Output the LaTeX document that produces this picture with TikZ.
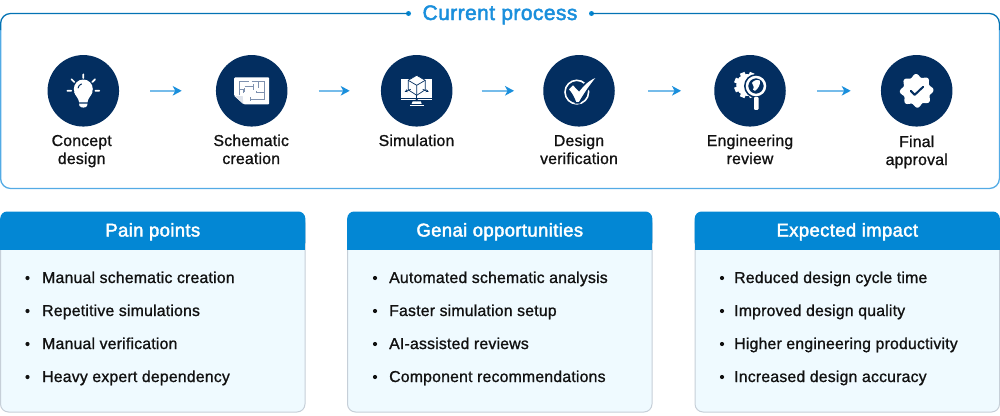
\documentclass[tikz,border=0pt]{standalone}
\usepackage{fontspec}
\setmainfont{Liberation Sans}[FakeBold=1.1,LetterSpace=1.3]
\newfontfamily\semibf{Liberation Sans}[FakeBold=2.2,LetterSpace=2]
\usetikzlibrary{arrows.meta,calc}
\definecolor{navy}{HTML}{032E60}
\definecolor{blueA}{HTML}{1A8FDC}
\definecolor{blueH}{HTML}{0387D4}
\definecolor{cardbg}{HTML}{EFFAFF}
\definecolor{cardln}{HTML}{C6CFD8}
\definecolor{ink}{HTML}{111111}
\definecolor{planln}{HTML}{7E91AF}
\tikzset{
  stepdisc/.style={circle,fill=navy,minimum size=71.5pt,inner sep=0pt},
  steplabel/.style={align=center,font=\fontsize{15.8}{18}\selectfont,text=ink,anchor=base,inner sep=0pt},
  flow/.style={line width=1.6pt,draw=blueA!60,-{Stealth[length=9pt,width=9.5pt,inset=2.5pt,color=blueA]}},
  cardhead/.style={font=\semibf\fontsize{18.5}{20}\selectfont,text=white,anchor=base,inner sep=0pt},
  item/.style={font=\fontsize{15.8}{18}\selectfont,text=ink,anchor=base west,inner sep=0pt},
  bulletdot/.style={circle,fill=ink,minimum size=4.2pt,inner sep=0pt},
  titletxt/.style={font=\semibf\fontsize{21}{24}\selectfont,text=blueA,anchor=base,inner sep=0pt},
  framedot/.style={circle,fill=blueH,minimum size=5pt,inner sep=0pt},
  whl/.style={draw=white,line cap=round,line join=round},
}
\begin{document}
\begin{tikzpicture}[x=1pt,y=-1pt]
\useasboundingbox (0,0) rectangle (1000,415);
% frame
\node[framedot] (dotL) at (408.5,13.5) {};
\node[framedot] (dotR) at (591.5,13.5) {};
\draw[line width=1.3pt,draw=blueA!75,rounded corners=10pt] (0.6,30) -- (0.6,188.5) -- (999.4,188.5) -- (999.4,30);
\draw[line width=1.3pt,draw=blueH!85!black,rounded corners=10pt] (dotL.center) -- (0.6,13.5) -- (0.6,30);
\draw[line width=1.3pt,draw=blueH!85!black,rounded corners=10pt] (dotR.center) -- (999.4,13.5) -- (999.4,30);
\node[titletxt] (title) at (500,20) {Current process};
% discs
\node[stepdisc] (c1) at (83.3,90.8) {};
\node[stepdisc] (c2) at (251.7,90.8) {};
\node[stepdisc] (c3) at (416.7,90.8) {};
\node[stepdisc] (c4) at (579,90.8) {};
\node[stepdisc] (c5) at (750,90.8) {};
\node[stepdisc] (c6) at (916.7,90.8) {};
% flows
\draw[flow,shorten <=31pt,shorten >=34pt] (c1) -- (c2);
\draw[flow,shorten <=31pt,shorten >=31pt] (c2) -- (c3);
\draw[flow,shorten <=29pt,shorten >=29pt] (c3) -- (c4);
\draw[flow,shorten <=33pt,shorten >=33pt] (c4) -- (c5);
\draw[flow,shorten <=31pt,shorten >=30pt] (c5) -- (c6);
% labels
\node[steplabel] (l1a) at (81.7,146) {Concept};
\node[steplabel] (l1b) at (81.7,164) {design};
\node[steplabel] (l2a) at (251.2,146) {Schematic};
\node[steplabel] (l2b) at (251.2,164) {creation};
\node[steplabel] (l3a) at (416.5,146) {Simulation};
\node[steplabel] (l4a) at (579,146) {Design};
\node[steplabel] (l4b) at (579,164) {verification};
\node[steplabel] (l5a) at (750,146) {Engineering};
\node[steplabel] (l5b) at (750,164) {review};
\node[steplabel] (l6a) at (916.7,147) {Final};
\node[steplabel] (l6b) at (916.7,165) {approval};
% icon 1: bulb
\begin{scope}[shift={(83.3,90.8)}]
  \fill[white] (0,-1.8) circle[radius=9.5];
  \fill[white] (-9.2,1) .. controls (-8,5.5) and (-4.6,7) .. (-4.2,11.5) -- (4.2,11.5) .. controls (4.6,7) and (8,5.5) .. (9.2,1) -- cycle;
  \fill[white] (-4.2,12.8) -- (4.2,12.8) -- (3.8,15) .. controls (2.8,17.4) and (-2.8,17.4) .. (-3.8,15) -- cycle;
  \draw[navy,line width=1pt,line cap=round] (-5.2,-2.8) .. controls (-5,-4.8) and (-3.5,-6.3) .. (-1.8,-6.8);
  \draw[whl,line width=1.7pt] (0,-16.5) -- (0,-12.8) (-16,0) -- (-12,0) (16,0) -- (12,0) (-11.8,-11.5) -- (-9,-8.8) (11.8,-11.5) -- (9,-8.8);
\end{scope}
% icon 2: plan sheet
\begin{scope}[shift={(251.7,90.8)}]
  \fill[white,rounded corners=1pt] (-17.5,-13.5) -- (17.5,-13.5) -- (17.5,13.5) -- (-8,13.5) -- (-17.5,5) -- cycle;
  \fill[white!75!planln] (-17,5.3) -- (-9,5.3) -- (-8.4,13) -- cycle;
  \draw[planln,line width=.9pt] (-12.5,4.5) -- (-12.5,-9.5) -- (-3,-9.5) (0,-9.5) -- (12.5,-9.5) -- (12.5,8.5) -- (-1,8.5) (-1,6.5) -- (-1,10.5) (-12.5,-1) -- (-7,-1) (-7,-3) -- (-7,1) (-7,-4) -- (2,-4) (2,-6.5) -- (2,-1) (-8,-1) -- (-8,2) (7,-9.5) -- (7,-3) (5,2) -- (12.5,2) (5,0) -- (5,2);
\end{scope}
% icon 3: monitor and cube
\begin{scope}[shift={(416.7,90.8)}]
  \fill[white] (-15.7,-11.5) -- (15.7,-11.5) -- (15.7,7) -- (-15.7,7) -- cycle;
  \fill[white] (-15.7,8) -- (15.7,8) -- (15.7,9.5) -- (-15.7,9.5) -- cycle;
  \fill[white] (-4,10.5) -- (4,10.5) -- (5,13) -- (-5,13) -- cycle;
  \fill[white] (-7,14.2) -- (7,14.2) -- (7,15.6) -- (-7,15.6) -- cycle;
  \fill[white,draw=navy,line width=.7pt,line join=round] (0,-15.5) -- (8.5,-10.5) -- (8.5,-1) -- (0,4.5) -- (-8.5,-1) -- (-8.5,-10.5) -- cycle;
  \draw[navy,line width=.7pt] (-8.5,-10.5) -- (0,-5.5) -- (8.5,-10.5) (0,-5.5) -- (0,4.5);
  \draw[navy,line width=.7pt,-{Stealth[length=3pt,width=3pt]}] (0,4) -- (0,10.5);
  \draw[navy,line width=.7pt,-{Stealth[length=3pt,width=3pt]}] (-6,-1.5) -- (-12,1);
  \draw[navy,line width=.7pt,-{Stealth[length=3pt,width=3pt]}] (6,-1.5) -- (12,1);
\end{scope}
% icon 4: check
\begin{scope}[shift={(579,90.8)}]
  \draw[white,line width=1.6pt] (-2.2,1.3) circle[radius=11.8];
  \fill[white,draw=navy,line width=1.6pt,line join=miter] (-11.3,-1.5) -- (-6,-6.8) -- (0,-0.5) .. controls (6,-8) and (11,-12) .. (17.7,-14.5) -- (17.7,-13) .. controls (11,-5) and (5,4) .. (0.5,12) -- (-3.5,12) .. controls (-5,7) and (-8,2) .. (-11.3,-1.5) -- cycle;
\end{scope}
% icon 5: gear and lens
\begin{scope}[shift={(750,90.8)}]
  \fill[white] (-2.8,-5.8) circle[radius=11];
  \foreach \a in {0,45,...,315}{
    \fill[white,rotate around={\a+22.5:(-2.8,-5.8)}] (-5.3,-19) rectangle (-0.3,-15);
  }
  \fill[navy] (6,-4.8) circle[radius=12];
  \draw[white,line width=2.5pt] (6,-4.8) circle[radius=9];
  \fill[white] (10,-10) .. controls (10.5,-6) and (8,-2) .. (5,0) .. controls (2.5,0.5) and (2.8,-2) .. (3.8,-3.8) .. controls (3.8,-6) and (1.8,-6) .. (2,-8) .. controls (4,-11) and (8,-11.5) .. (10,-10) -- cycle;
  \fill[white,rounded corners=1pt] (4,6) rectangle (8.5,19);
\end{scope}
% icon 6: badge
\begin{scope}[shift={(916.7,90.8)}]
  \fill[white] plot[smooth cycle,samples=72,domain=0:355,variable=\t] ({(15.3+1.6*cos(8*\t+22.5))*cos(\t)},{(15.3+1.6*cos(8*\t+22.5))*sin(\t)});
  \draw[navy,line width=2pt,line cap=round,line join=round] (-6,0) -- (-2,4) -- (6.5,-4);
\end{scope}
% cards
\foreach \nm/\x/\ttl in {A/0.5/Pain points,B/347.5/Genai opportunities,C/695/Expected impact}{
  \fill[cardbg,draw=cardln,line width=1pt,rounded corners=8pt] (\x,215) rectangle ++(304.5,197);
  \fill[blueH,rounded corners=7pt] (\x-0.3,211.5) -- ++(305.1,0) -- ++(0,38) -- ++(-305.1,0) -- cycle;
  \fill[blueH] (\x-0.3,225) rectangle ++(305.1,24.5);
  \node[cardhead] (head\nm) at (\x+152.3,236.5) {\ttl};
}
\foreach \yy/\ii/\ta/\tb/\tc in {
  283/1/Manual schematic creation/Automated schematic analysis/Reduced design cycle time,
  316/2/Repetitive simulations/Faster simulation setup/Improved design quality,
  349/3/Manual verification/AI-assisted reviews/Higher engineering productivity,
  382/4/Heavy expert dependency/Component recommendations/Increased design accuracy}{
  \node[bulletdot] (ba\ii) at (27.5,\yy-5) {};
  \node[item] (ta\ii) at (42,\yy) {\ta};
  \node[bulletdot] (bb\ii) at (375,\yy-5) {};
  \node[item] (tb\ii) at (389,\yy) {\tb};
  \node[bulletdot] (bc\ii) at (722,\yy-5) {};
  \node[item] (tc\ii) at (734,\yy) {\tc};
}
\end{tikzpicture}
\end{document}
